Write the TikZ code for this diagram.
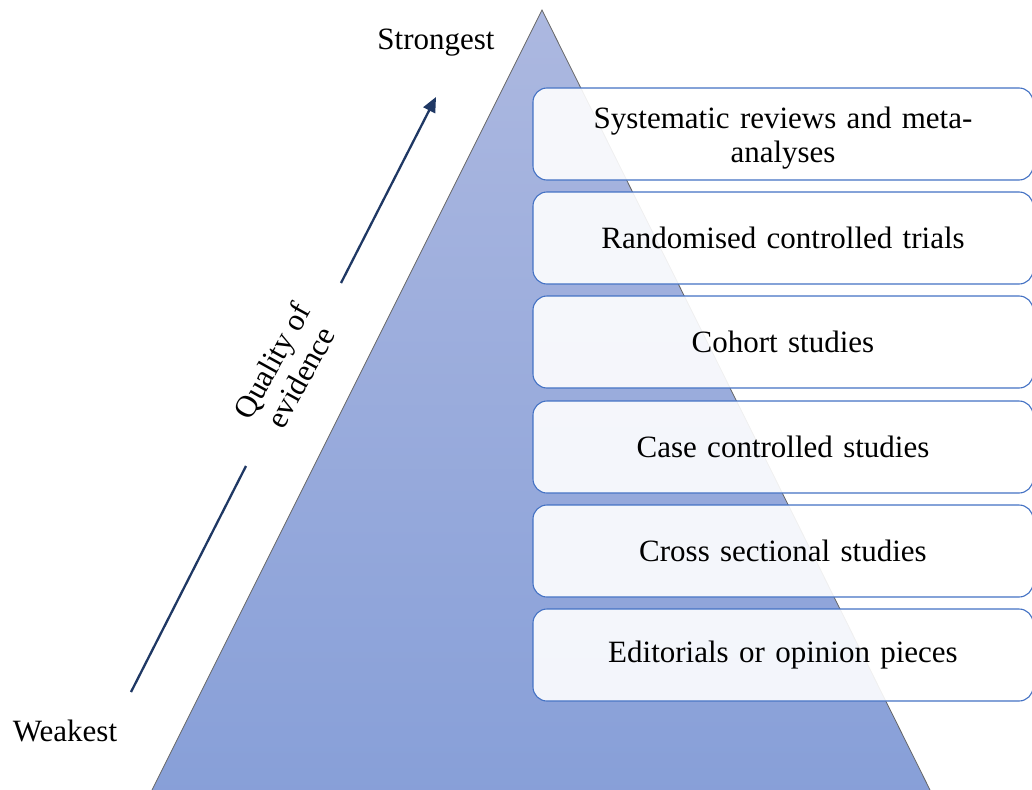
\documentclass[tikz,border=0pt]{standalone}
\usepackage{fontspec}
\setmainfont{Liberation Serif}
\usetikzlibrary{arrows.meta}
\definecolor{boxblue}{RGB}{68,114,196}
\definecolor{navy}{RGB}{31,56,100}
\definecolor{pyrtop}{RGB}{172,184,224}
\definecolor{pyrbot}{RGB}{135,159,216}
\tikzset{
  lvl/.style={draw=boxblue, line width=1.1pt, rounded corners=14pt, fill=white, fill opacity=0.9,
    text opacity=1, minimum width=500pt, minimum height=92pt, text width=440pt, align=center,
    font=\fontsize{31}{34}\selectfont, inner sep=0pt},
  lbl/.style={font=\fontsize{31}{34}\selectfont, inner sep=0pt},
  qarrow/.style={draw=navy, line width=2.3pt},
}
\begin{document}
\begin{tikzpicture}[x=1pt,y=-1pt]
\useasboundingbox (0,0) rectangle (1032,789);
\begin{scope}
\clip (0,0) rectangle (1032,789);
\shade[top color=pyrtop, bottom color=pyrbot, draw=gray!80!black, line width=0.8pt]
  (542,10) -- (935,800) -- (147,800) -- cycle;
\node[lvl] (b1) at (783,134) {\rule{0pt}{30pt}Systematic reviews and meta-\\analyses};
\node[lvl] (b2) at (783,238) {Randomised controlled trials};
\node[lvl] (b3) at (783,342) {Cohort studies};
\node[lvl] (b4) at (783,447) {Case controlled studies};
\node[lvl] (b5) at (783,551) {Cross sectional studies};
\node[lvl] (b6) at (783,655) {Editorials or opinion pieces};
\end{scope}
\node[lbl] (strong) at (436,43) {Strongest};
\node[lbl] (weak) at (65,731) {Weakest};
\node[lbl, rotate=61, align=center, font=\fontsize{31}{33}\selectfont] (q) at (286,369) {Quality of\\evidence};
\coordinate (w1) at (131,692);
\coordinate (w2) at (246,466);
\coordinate (s1) at (341,283);
\coordinate (s2) at (436,97);
\draw[qarrow] (w1) -- (w2);
\draw[qarrow, -{Triangle[length=15pt,width=13pt]}] (s1) -- (s2);
\end{tikzpicture}
\end{document}
